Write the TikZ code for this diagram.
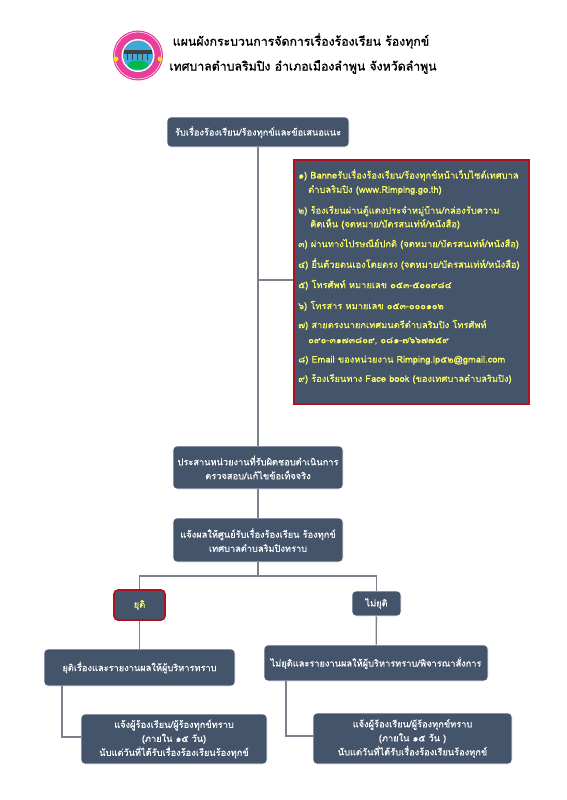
\documentclass[tikz,border=0pt]{standalone}
\usepackage{fontspec}
\setmainfont[Script=Thai, FakeBold=0.5]{Loma}
\newfontfamily\titlefont[Script=Thai, FakeBold=1.2]{Loma}
\newfontfamily\listfont[Script=Thai, FakeBold=0.2]{Loma}
\usepackage{tikz}
\definecolor{boxfill}{HTML}{44546A}
\definecolor{boxtext}{HTML}{FFFFFF}
\definecolor{listtext}{HTML}{FFFF66}
\definecolor{listframe}{HTML}{B01020}
\definecolor{linkgray}{HTML}{7A818C}
\definecolor{logopink}{HTML}{E8409A}
\definecolor{logoblue}{HTML}{3FA9D8}
\tikzset{flowbox/.style={draw=white, line width=0.6pt, fill=boxfill, rounded corners=4pt,
                         text=boxtext, align=center, font=\fontsize{9.25}{14}\selectfont, inner sep=0pt},
         flowlink/.style={draw=linkgray, line width=1.3pt},
         listline/.style={anchor=west, text=listtext, font=\fontsize{9.3}{12}\selectfont\listfont, inner sep=0pt},
         titleline/.style={font=\fontsize{12.3}{14}\selectfont\titlefont}}
\begin{document}
\begin{tikzpicture}[x=1pt, y=-1pt]
  \useasboundingbox (0,0) rectangle (566,800);
  % logo
  \fill[logopink] (138,55.5) circle (25);
  \draw[white, line width=0.5pt] (138,55.5) circle (23.5);
  \fill[white] (138,55.5) circle (16.5);
  \fill[logoblue] (138,55.5) circle (15);
  \fill[green!45!teal] (138,65) ellipse (10 and 4.5);
  \fill[black!75] (124,50) rectangle (152,54);
  \foreach \pierx in {127,132,137,142,147}
    \fill[black!75] (\pierx,54) rectangle +(1.4,6);
  \fill[yellow!90!orange] (116,59) circle (2.4);
  \fill[yellow!90!orange] (160,59) circle (2.4);
  % title
  \node[titleline] (title1) at (301,41) {แผนผังกระบวนการจัดการเรื่องร้องเรียน ร้องทุกข์};
  \node[titleline] (title2) at (303,67) {เทศบาลตำบลริมปิง อำเภอเมืองลำพูน จังหวัดลำพูน};
  % boxes
  \node[flowbox, minimum width=182pt, minimum height=30pt] (receive) at (258,132) {รับเรื่องร้องเรียน/ร้องทุกข์และข้อเสนอแนะ};
  \node[draw=listframe, line width=2pt, fill=boxfill, minimum width=235pt, minimum height=244pt, inner sep=0pt] (channels) at (411,281.5) {};
  \node[flowbox, minimum width=170pt, minimum height=43pt] (coord) at (258,467.5) {ประสานหน่วยงานที่รับผิดชอบดำเนินการ\\ตรวจสอบ/แก้ไขข้อเท็จจริง};
  \node[flowbox, minimum width=170pt, minimum height=44pt] (notify) at (258,540) {แจ้งผลให้ศูนย์รับเรื่องร้องเรียน ร้องทุกข์\\เทศบาลตำบลริมปิงทราบ};
  \node[flowbox, draw=listframe, line width=1.6pt, text=listtext, minimum width=51pt, minimum height=30pt] (stop) at (139.5,605) {ยุติ};
  \node[flowbox, minimum width=49pt, minimum height=25pt] (nostop) at (376.5,603.5) {ไม่ยุติ};
  \node[flowbox, minimum width=191pt, minimum height=37pt] (stopreport) at (139.5,667.5) {ยุติเรื่องและรายงานผลให้ผู้บริหารทราบ};
  \node[flowbox, minimum width=224pt, minimum height=36pt] (noreport) at (376,663) {ไม่ยุติและรายงานผลให้ผู้บริหารทราบ/พิจารณาสั่งการ};
  \node[flowbox, minimum width=186pt, minimum height=50pt] (stopinform) at (174,739) {แจ้งผู้ร้องเรียน/ผู้ร้องทุกข์ทราบ\\(ภายใน ๑๕ วัน)\\นับแต่วันที่ได้รับเรื่องร้องเรียนร้องทุกข์};
  \node[flowbox, minimum width=199pt, minimum height=51pt] (noinform) at (412.5,738.5) {แจ้งผู้ร้องเรียน/ผู้ร้องทุกข์ทราบ\\(ภายใน ๑๕ วัน )\\นับแต่วันที่ได้รับเรื่องร้องเรียนร้องทุกข์};
  % list text
  \node[listline] (item1) at (298,175) {๑) Banneรับเรื่องร้องเรียน/ร้องทุกข์หน้าเว็บไซต์เทศบาล};
  \node[listline] (item1b) at (308,190) {ตำบลริมปิง (www.Rimping.go.th)};
  \node[listline] (item2) at (298,211) {๒) ร้องเรียนผ่านตู้แดงประจำหมู่บ้าน/กล่องรับความ};
  \node[listline] (item2b) at (310,224) {คิดเห็น (จดหมาย/บัตรสนเท่ห์/หนังสือ)};
  \node[listline] (item3) at (298,244) {๓) ผ่านทางไปรษณีย์ปกติ (จดหมาย/บัตรสนเท่ห์/หนังสือ)};
  \node[listline] (item4) at (298,264) {๔) ยื่นด้วยตนเองโดยตรง (จดหมาย/บัตรสนเท่ห์/หนังสือ)};
  \node[listline] (item5) at (298,285) {๕) โทรศัพท์ หมายเลข ๐๕๓-๕๐๐๙๘๔};
  \node[listline] (item6) at (298,306) {๖) โทรสาร หมายเลข ๐๕๓-๐๐๐๑๐๒};
  \node[listline] (item7) at (298,325) {๗) สายตรงนายกเทศมนตรีตำบลริมปิง โทรศัพท์};
  \node[listline] (item7b) at (308,341) {๐๙๐-๓๑๗๓๘๐๙, ๐๘๑-๗๖๖๗๗๕๙};
  \node[listline] (item8) at (298,360) {๘) Email ของหน่วยงาน Rimping.lp๕๒@gmail.com};
  \node[listline] (item9) at (298,379) {๙) ร้องเรียนทาง Face book (ของเทศบาลตำบลริมปิง)};
  % links
  \coordinate (branch) at (258,280);
  \coordinate (split) at (258,576);
  \coordinate (leftcorner) at (62,737);
  \coordinate (rightcorner) at (286,736);
  \draw[flowlink] (receive) -- (coord);
  \draw[flowlink] (branch) -- (channels.west |- branch);
  \draw[flowlink] (coord) -- (notify);
  \draw[flowlink] (notify) -- (split);
  \draw[flowlink] (stop.north) |- (split) -| (nostop.north);
  \draw[flowlink] (stop) -- (stopreport);
  \draw[flowlink] (nostop) -- (noreport);
  \draw[flowlink] (stopreport.south -| leftcorner) -- (leftcorner) -- (leftcorner -| stopinform.west);
  \draw[flowlink] (noreport.south -| rightcorner) -- (rightcorner) -- (rightcorner -| noinform.west);
\end{tikzpicture}
\end{document}
